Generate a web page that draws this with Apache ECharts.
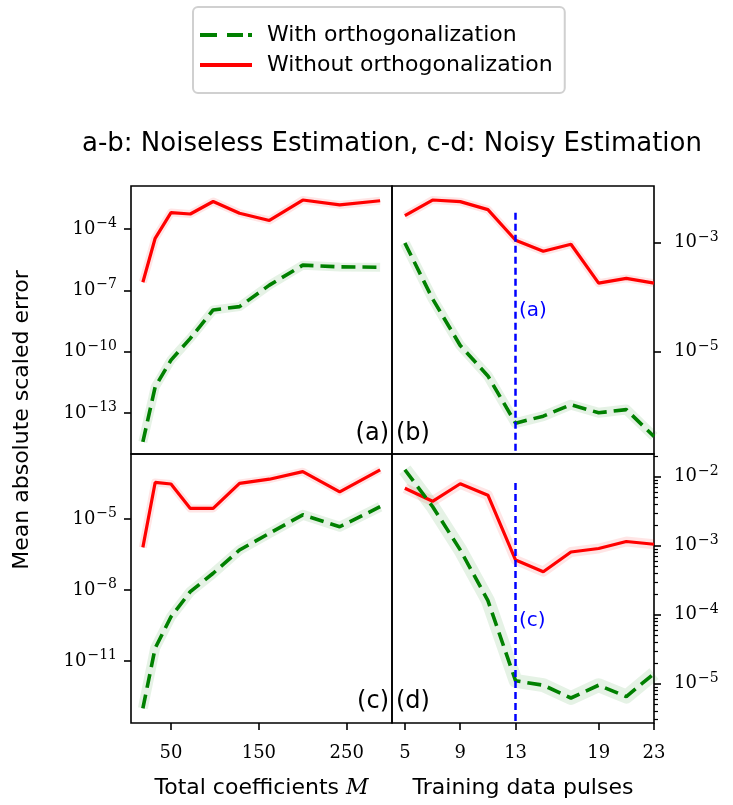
<!DOCTYPE html>
<html>
<head>
<meta charset="utf-8">
<script src="https://cdn.jsdelivr.net/npm/echarts@6/dist/echarts.min.js"></script>
<style>
html, body { margin: 0; padding: 0; background: #fff; }
#main { width: 733px; height: 805px; }
</style>
</head>
<body>
<div id="main"></div>
<script>
// x values
var coeffs = [18, 32, 50, 72, 98, 128, 162, 200, 242, 288];
var pulses = [5, 7, 9, 11, 13, 15, 17, 19, 21, 23];

// (a) noiseless, vs total coefficients
var aWith = [3.9e-15, 1.9e-12, 3.9e-11, 4.5e-10, 1.1e-8, 1.6e-8, 1.8e-7, 1.7e-6, 1.4e-6, 1.35e-6];
var aWithout = [2.5e-7, 3.5e-5, 6.3e-4, 5.4e-4, 2.2e-3, 5.9e-4, 2.6e-4, 2.6e-3, 1.5e-3, 2.4e-3];
// (b) noiseless, vs training pulses
var bWith = [9.8e-4, 9.3e-5, 1.3e-5, 3.6e-6, 4.9e-7, 6.6e-7, 1.07e-6, 7.6e-7, 8.7e-7, 2.8e-7];
var bWithout = [3.1e-3, 6.0e-3, 5.6e-3, 4.0e-3, 1.1e-3, 6.9e-4, 9.3e-4, 1.8e-4, 2.2e-4, 1.8e-4];
// (c) noisy, vs total coefficients
var cWith = [1.0e-13, 3.5e-11, 7.4e-10, 8.5e-9, 5.1e-8, 4.9e-7, 2.5e-6, 1.5e-5, 4.7e-6, 3.3e-5];
var cWithout = [6.3e-7, 3.5e-4, 3.0e-4, 2.8e-5, 2.8e-5, 3.2e-4, 4.8e-4, 1.0e-3, 1.4e-4, 1.2e-3];
// (d) noisy, vs training pulses
var dWith = [1.26e-2, 3.7e-3, 8.7e-4, 1.6e-4, 1.1e-5, 9.5e-6, 6.2e-6, 9.5e-6, 6.5e-6, 1.4e-5];
var dWithout = [6.8e-3, 4.4e-3, 7.9e-3, 5.4e-3, 6.2e-4, 4.2e-4, 8.1e-4, 9.1e-4, 1.15e-3, 1.05e-3];

// tick labels
var ticksA = [1e-13, 1e-10, 1e-7, 1e-4];
var ticksB = [1e-5, 1e-3];
var ticksC = [1e-11, 1e-8, 1e-5];
var ticksD = [1e-5, 1e-4, 1e-3, 1e-2];
var ticksM = [50, 150, 250];
var ticksPulses = [5, 9, 13, 19, 23];
var chosenPulses = 13;

var SANS = 'DejaVu Sans';
var SERIF = 'DejaVu Serif';

var yRanges = [[-15.0, -1.9], [-6.874, -1.965], [-13.62, -2.254], [-5.570, -1.671]];

var minorD = [];
for (var k = -6; k <= -2; k++) {
    for (var m = 2; m <= 9; m++) {
        var v = m * Math.pow(10, k);
        if (v > Math.pow(10, yRanges[3][0]) && v < Math.pow(10, yRanges[3][1])) minorD.push(v);
    }
}

function pow10Label(v) {
    var e = Math.round(Math.log10(v));
    return '{b|10}{e|\u2212' + (-e) + '}';
}
var powRich = {
    b: { fontFamily: SERIF, fontSize: 18, color: '#000' },
    e: { fontFamily: SERIF, fontSize: 14, color: '#000', padding: [0, 0, 11, 1] }
};

var grids = [
    { left: 131, top: 186, width: 261, height: 268 },
    { left: 392, top: 186, width: 262, height: 268 },
    { left: 131, top: 454, width: 261, height: 269 },
    { left: 392, top: 454, width: 262, height: 269 }
].map(function (g) {
    g.show = true;
    g.borderColor = '#000';
    g.borderWidth = 1.6;
    g.backgroundColor = 'transparent';
    return g;
});

function xAxis(idx, min, max, ticks) {
    return {
        type: 'value', gridIndex: idx, min: min, max: max,
        axisLine: { show: false }, splitLine: { show: false },
        axisTick: ticks ? { show: true, customValues: ticks, length: 7, lineStyle: { color: '#000', width: 1.6 } } : { show: false },
        axisLabel: ticks ? { show: true, customValues: ticks, margin: 21, fontFamily: SERIF, fontSize: 18, color: '#000' } : { show: false }
    };
}

function yAxis(idx, range, ticks, pos, margin) {
    return {
        type: 'log', logBase: 10, gridIndex: idx, position: pos,
        min: Math.pow(10, range[0]), max: Math.pow(10, range[1]),
        axisLine: { show: false }, splitLine: { show: false },
        axisTick: { show: true, customValues: ticks, length: 7, lineStyle: { color: '#000', width: 1.6 } },
        axisLabel: { show: true, customValues: ticks, margin: margin, formatter: pow10Label, rich: powRich }
    };
}

var xAxes = [
    xAxis(0, 4.5, 301.5, null),
    xAxis(1, 4.07, 23, null),
    xAxis(2, 4.5, 301.5, ticksM),
    xAxis(3, 4.07, 23, ticksPulses)
];
xAxes[2].name = 'Total coefficients {i|M}';
xAxes[3].name = 'Training data pulses';
[2, 3].forEach(function (i) {
    xAxes[i].nameLocation = 'middle';
    xAxes[i].nameGap = 54;
    xAxes[i].nameTextStyle = {
        fontFamily: SANS, fontSize: 22, color: '#000',
        rich: { i: { fontFamily: SERIF, fontStyle: 'italic', fontSize: 22, color: '#000' } }
    };
});

var yAxes = [
    yAxis(0, yRanges[0], ticksA, 'left', 14),
    yAxis(1, yRanges[1], ticksB, 'right', 20),
    yAxis(2, yRanges[2], ticksC, 'left', 14),
    yAxis(3, yRanges[3], ticksD, 'right', 20),
    {
        type: 'log', logBase: 10, gridIndex: 3, position: 'right',
        min: Math.pow(10, yRanges[3][0]), max: Math.pow(10, yRanges[3][1]),
        axisLine: { show: false }, splitLine: { show: false }, axisLabel: { show: false },
        axisTick: { show: true, customValues: minorD, length: 4, lineStyle: { color: '#000', width: 1.2 } }
    }
];

function pairs(xs, ys) {
    return xs.map(function (x, i) { return [x, ys[i]]; });
}

var series = [];
var panels = [
    [coeffs, aWith, aWithout, 9, 8],
    [pulses, bWith, bWithout, 10, 8],
    [coeffs, cWith, cWithout, 10, 8],
    [pulses, dWith, dWithout, 14, 10]
];
panels.forEach(function (p, i) {
    // translucent bands under the lines
    series.push({
        name: 'band-g' + i, type: 'line', xAxisIndex: i, yAxisIndex: i, data: pairs(p[0], p[1]),
        symbol: 'none', silent: true, z: 1,
        lineStyle: { color: 'rgba(0,128,0,0.1)', width: p[3], join: 'round' }
    });
    series.push({
        name: 'band-r' + i, type: 'line', xAxisIndex: i, yAxisIndex: i, data: pairs(p[0], p[2]),
        symbol: 'none', silent: true, z: 1,
        lineStyle: { color: 'rgba(255,0,0,0.1)', width: p[4], join: 'round' }
    });
    var red = {
        name: 'Without orthogonalization', type: 'line', xAxisIndex: i, yAxisIndex: i,
        data: pairs(p[0], p[2]), symbol: 'none', z: 3,
        lineStyle: { color: '#ff0000', width: 3.2 }, itemStyle: { color: '#ff0000' }
    };
    var green = {
        name: 'With orthogonalization', type: 'line', xAxisIndex: i, yAxisIndex: i,
        data: pairs(p[0], p[1]), symbol: 'none', z: 4,
        lineStyle: { color: '#008000', width: 3.6, type: [14, 7] }, itemStyle: { color: '#008000' }
    };
    if (i === 1 || i === 3) {
        var top = i === 1 ? 3.5e-3 : 8.1e-3;
        red.markLine = {
            silent: true, symbol: 'none', animation: false,
            label: { show: false },
            lineStyle: { color: '#0000ff', width: 2.5, type: [7, 4] },
            data: [[{ coord: [chosenPulses, top] }, { coord: [chosenPulses, Math.pow(10, yRanges[i][0])] }]]
        };
    }
    series.push(green, red);
});

function txt(x, y, s, size, align, color) {
    return {
        type: 'text', x: x, y: y, silent: true,
        style: { text: s, fontFamily: SANS, fontSize: size, fill: color || '#000', align: align, verticalAlign: 'middle' }
    };
}

var option = {
    animation: false,
    backgroundColor: '#fff',
    textStyle: { fontFamily: SANS },
    legend: {
        data: [
            { name: 'With orthogonalization', icon: 'path://M0,0h17v4h-17z M27,0h16v4h-16z M48,0h4v4h-4z' },
            { name: 'Without orthogonalization', icon: 'path://M0,0h52v4h-52z' }
        ],
        orient: 'vertical', left: 193, top: 7,
        padding: [17, 12, 17, 7],
        itemWidth: 52, itemHeight: 4, itemGap: 8,
        borderColor: '#d0d0d0', borderWidth: 2, borderRadius: 5,
        textStyle: { fontFamily: SANS, fontSize: 22, color: '#000', padding: [0, 0, 0, 10] }
    },
    grid: grids,
    xAxis: xAxes,
    yAxis: yAxes,
    series: series,
    graphic: [
        txt(392, 144, 'a-b: Noiseless Estimation, c-d: Noisy Estimation', 26, 'center'),
        {
            type: 'text', x: 22, y: 420, rotation: Math.PI / 2, silent: true,
            style: { text: 'Mean absolute scaled error', fontFamily: SANS, fontSize: 22, fill: '#000', align: 'center', verticalAlign: 'middle' }
        },
        txt(389, 434, '(a)', 24, 'right'),
        txt(396, 434, '(b)', 24, 'left'),
        txt(389, 702, '(c)', 24, 'right'),
        txt(396, 702, '(d)', 24, 'left'),
        txt(519, 311, '(a)', 20, 'left', '#0000ff'),
        txt(519, 621, '(c)', 20, 'left', '#0000ff')
    ]
};

var chart = echarts.init(document.getElementById('main'));
chart.setOption(option);
</script>
</body>
</html>
